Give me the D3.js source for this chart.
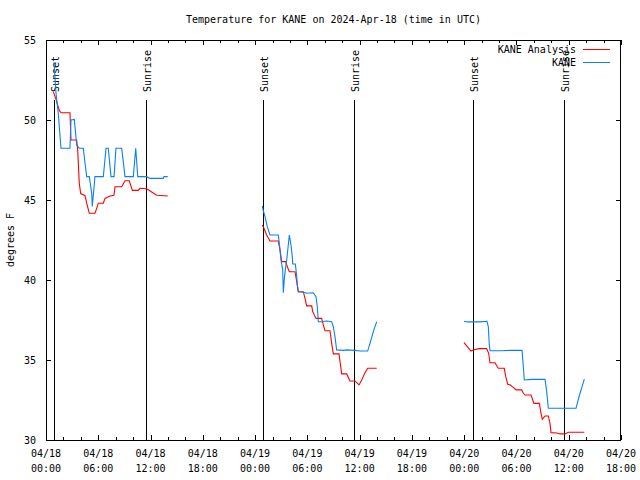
<!DOCTYPE html>
<html><head><meta charset="utf-8">
<script src="https://cdn.jsdelivr.net/npm/d3@7"></script>
<style>body{margin:0;background:#fff}svg{display:block}text{font-family:"DejaVu Sans Mono","Liberation Mono",monospace;font-size:10px;fill:#000}</style>
</head><body><svg id="c" width="640" height="480"></svg>
<script>
// hours since 2024-04-18 00:00 UTC; null marks a gap
const analysisHours = [0.84,1.11,1.53,1.72,2.75,2.87,3.52,3.64,3.82,3.98,4.48,4.67,4.97,5.62,5.82,6.0,6.58,6.77,7.35,7.8,7.92,8.69,9.07,9.56,9.91,10.59,10.79,11.56,12.13,12.71,13.97,
  null,
  24.83,25.02,25.33,25.71,26.67,26.74,26.86,27.05,27.51,27.7,27.93,28.58,28.78,28.96,29.53,29.73,29.92,30.5,30.61,30.99,31.64,31.83,32.02,32.6,32.79,32.98,33.63,33.83,33.94,34.51,34.89,35.47,35.93,36.24,36.62,36.92,37.96,
  null,
  47.98,48.29,48.78,49.05,49.7,50.58,50.81,50.96,51.54,51.8,51.92,52.6,52.77,53.0,53.26,53.64,53.95,54.6,54.79,54.98,55.67,55.87,56.01,56.63,56.82,56.97,57.28,57.66,57.85,57.97,58.62,59.0,59.57,59.96,61.79];
const analysisTemps = [51.77,51.35,50.6,50.45,50.45,48.75,48.75,48.1,46.04,45.4,45.27,44.8,44.17,44.17,44.48,44.8,44.8,45.1,45.25,45.3,45.83,45.83,46.2,46.2,45.6,45.6,45.73,45.7,45.5,45.3,45.25,
  null,
  43.44,43.23,42.81,42.44,42.44,42.23,41.88,41.15,41.15,40.83,40.52,40.52,39.9,39.27,39.27,38.85,38.38,38.38,38.02,37.6,37.6,37.19,36.83,36.83,36.04,35.38,35.38,34.58,34.13,34.13,33.69,33.69,33.44,33.75,34.21,34.48,34.48,
  null,
  36.08,35.88,35.56,35.63,35.71,35.71,35.42,34.83,34.83,34.58,34.48,34.48,33.96,33.48,33.45,33.29,33.13,33.13,32.92,32.81,32.81,32.5,32.29,32.29,31.67,31.29,31.5,31.5,31.04,30.46,30.44,30.38,30.38,30.48,30.48];
const kaneHours = [0.92,1.15,1.41,1.72,2.75,2.87,3.25,3.52,3.82,4.28,4.48,4.67,4.97,5.25,5.31,5.45,5.62,6.58,6.89,7.15,7.46,7.81,8.03,8.69,9.07,10.02,10.3,10.53,11.56,11.94,13.46,13.54,13.97,
  null,
  24.83,24.94,25.14,25.4,25.71,26.67,26.86,26.97,27.17,27.24,27.36,27.47,27.63,27.81,27.93,28.12,28.27,28.32,28.62,28.78,28.85,28.96,29.53,29.92,30.68,30.99,31.14,31.26,31.64,32.22,32.79,32.98,33.17,33.36,34.13,34.51,35.47,36.04,36.92,37.19,37.46,37.69,37.96,
  null,
  47.98,48.36,49.05,49.82,50.62,50.77,50.89,50.96,52.3,53.26,54.64,54.79,54.9,55.75,56.32,57.28,57.47,57.66,59.38,60.84,61.03,61.3,61.56,61.79];
const kaneTemps = [53.6,51.67,50.4,48.23,48.23,50.0,50.04,48.44,48.23,48.23,47.3,46.46,46.46,45.4,44.6,45.4,46.46,46.46,48.23,48.23,46.46,46.46,48.23,48.23,46.46,46.46,48.23,46.46,46.46,46.35,46.35,46.46,46.46,
  null,
  44.63,44.33,43.96,43.33,42.81,42.81,41.88,41.25,40.63,39.21,40.1,40.63,41.25,42.19,42.81,42.19,41.46,41.0,41.0,40.21,39.69,39.27,39.23,39.17,39.2,38.96,38.33,37.39,37.39,37.44,37.39,37.08,36.46,35.63,35.6,35.63,35.6,35.56,35.56,36.04,36.56,36.98,37.39,
  null,
  37.42,37.38,37.38,37.38,37.42,37.08,35.88,35.58,35.58,35.6,35.6,34.58,33.75,33.79,33.79,33.79,33.02,31.98,31.98,31.98,32.4,32.92,33.38,33.81];
const sunEventHours = [0.95,11.52,24.95,35.4,49.06,59.4];
const sunEventNames = ["Sunset","Sunrise","Sunset","Sunrise","Sunset","Sunrise"];
const yTicks = [30,35,40,45,50,55];
const seriesNames = ["KANE Analysis","KANE"];
const seriesColors = ["#ff0000","#0a80f2"];
const titleText = "Temperature for KANE on 2024-Apr-18 (time in UTC)";
const yLabel = "degrees F";

const t0 = Date.UTC(2024,3,18,0,0);
const toDate = h => new Date(t0 + h*3600000);
const svg = d3.select("#c");
const L=46,R=621,T=40,B=440;
const x = d3.scaleUtc().domain([toDate(0), toDate(66)]).range([L,R]);
const y = d3.scaleLinear().domain([30,55]).range([B,T]);

// title
svg.append("text").attr("x",(L+R)/2).attr("y",23).attr("text-anchor","middle").text(titleText);
// y label
svg.append("text").attr("transform",`translate(14,${(T+B)/2}) rotate(-90)`).attr("text-anchor","middle").text(yLabel);

const g = svg.append("g").attr("shape-rendering","crispEdges");
const majors = d3.range(0,67,6).map(toDate);
const minors = d3.range(0,67,2).map(toDate);
// x ticks (bottom + mirrored top)
[[B,-1],[T,1]].forEach(([yy,dir])=>{
  g.selectAll(null).data(minors).enter().append("line")
    .attr("x1",d=>Math.round(x(d))+0.5).attr("x2",d=>Math.round(x(d))+0.5)
    .attr("y1",yy).attr("y2",yy+dir*3).attr("stroke","#000");
  g.selectAll(null).data(majors).enter().append("line")
    .attr("x1",d=>Math.round(x(d))+0.5).attr("x2",d=>Math.round(x(d))+0.5)
    .attr("y1",yy).attr("y2",yy+dir*5).attr("stroke","#000");
});
// y ticks
[[L,1],[R,-1]].forEach(([xx,dir])=>{
  g.selectAll(null).data(yTicks).enter().append("line")
    .attr("x1",xx).attr("x2",xx+dir*5)
    .attr("y1",d=>Math.round(y(d))+0.5).attr("y2",d=>Math.round(y(d))+0.5).attr("stroke","#000");
});
const fmtD = d3.utcFormat("%m/%d"), fmtT = d3.utcFormat("%H:%M");
majors.forEach(d=>{
  svg.append("text").attr("x",x(d)).attr("y",B+17).attr("text-anchor","middle").text(fmtD(d));
  svg.append("text").attr("x",x(d)).attr("y",B+32).attr("text-anchor","middle").text(fmtT(d));
});
yTicks.forEach(v=>{
  svg.append("text").attr("x",L-10).attr("y",y(v)+4).attr("text-anchor","end").text(v);
});

// sunrise / sunset
sunEventHours.forEach((h,i)=>{
  const xx = Math.round(x(toDate(h)))+0.5;
  g.append("line").attr("x1",xx).attr("x2",xx).attr("y1",100).attr("y2",B).attr("stroke","#000");
  svg.append("text").attr("transform",`translate(${xx+4},92) rotate(-90)`).text(sunEventNames[i]);
});

// series
const line = d3.line().defined(d=>d[1]!==null).x(d=>x(toDate(d[0]))).y(d=>y(d[1]));
const s1 = analysisHours.map((h,i)=>[h,analysisTemps[i]]);
const s2 = kaneHours.map((h,i)=>[h,kaneTemps[i]]);
[s1,s2].forEach((s,i)=>{
  svg.append("path").attr("d",line(s)).attr("fill","none").attr("stroke",seriesColors[i]).attr("stroke-width",1.1);
});

// legend
seriesNames.forEach((n,i)=>{
  const yy = 49 + i*13;
  svg.append("text").attr("x",576).attr("y",yy+4).attr("text-anchor","end").text(n);
  g.append("line").attr("x1",583).attr("x2",610).attr("y1",yy+0.5).attr("y2",yy+0.5).attr("stroke",seriesColors[i]);
});

// border
g.append("rect").attr("x",L+0.5).attr("y",T+0.5).attr("width",R-L-1).attr("height",B-T).attr("fill","none").attr("stroke","#000");
</script></body></html>
